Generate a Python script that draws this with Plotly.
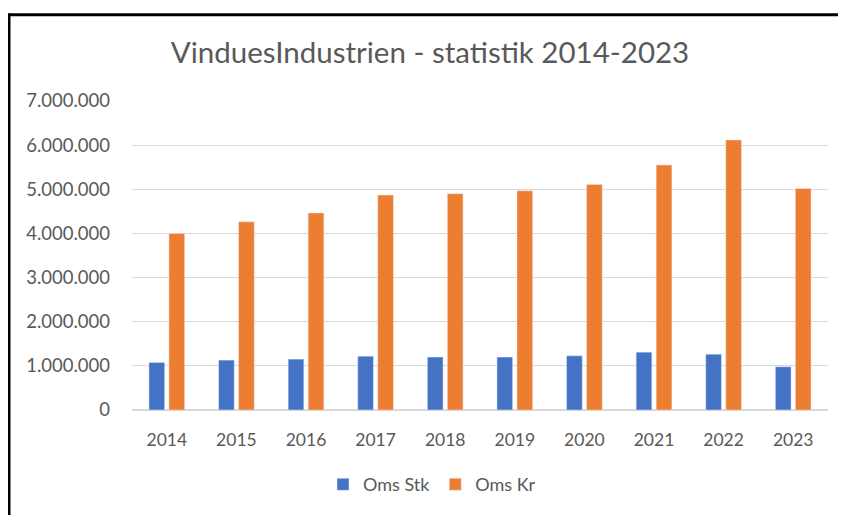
import plotly.graph_objects as go

years = ["2014", "2015", "2016", "2017", "2018", "2019", "2020", "2021", "2022", "2023"]
oms_stk = [1077000, 1130000, 1153000, 1220000, 1198000, 1198000, 1227000, 1310000, 1265000, 980000]
oms_kr = [4000000, 4263000, 4465000, 4869000, 4900000, 4967000, 5109000, 5550000, 6118000, 5019000]
y_ticks = [0, 1000000, 2000000, 3000000, 4000000, 5000000, 6000000, 7000000]

# page body has an 8px margin; work in window pixels and shift
OFF = 8
W, H = 846 - OFF, 515 - OFF
ML, MR, MT, MB = 132 - OFF, 18, 101 - OFF, 99
PW, PH = W - ML - MR, H - MT - MB

def px_x(x):
    return (x - OFF - ML) / PW

def px_y(y):
    return (H - MB - (y - OFF)) / PH

FONT = "Lato"
GRAY = "#595959"

fig = go.Figure()
fig.add_trace(go.Bar(x=years, y=oms_stk, name="Oms Stk", marker_color="#4472C4"))
fig.add_trace(go.Bar(x=years, y=oms_kr, name="Oms Kr", marker_color="#ED7D31"))

fig.update_layout(
    width=W, height=H,
    margin=dict(l=ML, r=MR, t=MT, b=MB, pad=0),
    paper_bgcolor="white", plot_bgcolor="white",
    separators=",.",
    barmode="group", bargap=0.425, bargroupgap=0.215,
    font=dict(family=FONT, color=GRAY, size=18),
    title=dict(text="VinduesIndustrien - statistik 2014-2023",
               xref="container", yref="container",
               x=(430 - OFF) / W, y=1 - (53 - OFF) / H, xanchor="center", yanchor="middle",
               font=dict(family=FONT, size=29.5, color=GRAY)),
    legend=dict(orientation="h", xref="paper", yref="paper",
                x=px_x(432), y=px_y(492), xanchor="center", yanchor="middle",
                font=dict(family=FONT, size=18, color=GRAY),
                itemwidth=30, traceorder="normal"),
    xaxis=dict(showgrid=False, showline=False, ticks="",
               ticklabelstandoff=17, tickfont=dict(size=17.5, color=GRAY)),
    yaxis=dict(range=[0, 7000000], tickvals=y_ticks, tickformat=",.0f",
               showgrid=True, gridcolor="#D9D9D9", gridwidth=1,
               zeroline=True, zerolinecolor="#D9D9D9", zerolinewidth=1.5,
               showline=False, ticks="", ticklabelstandoff=21,
               tickfont=dict(size=18.5, color=GRAY)),
    shapes=[
        dict(type="line", xref="paper", yref="paper",
             x0=px_x(9), x1=px_x(870), y0=px_y(13), y1=px_y(13),
             line=dict(color="black", width=3)),
        dict(type="line", xref="paper", yref="paper",
             x0=px_x(9), x1=px_x(9), y0=px_y(11.5), y1=px_y(540),
             line=dict(color="black", width=3)),
    ],
)

fig.write_html("out.html")
